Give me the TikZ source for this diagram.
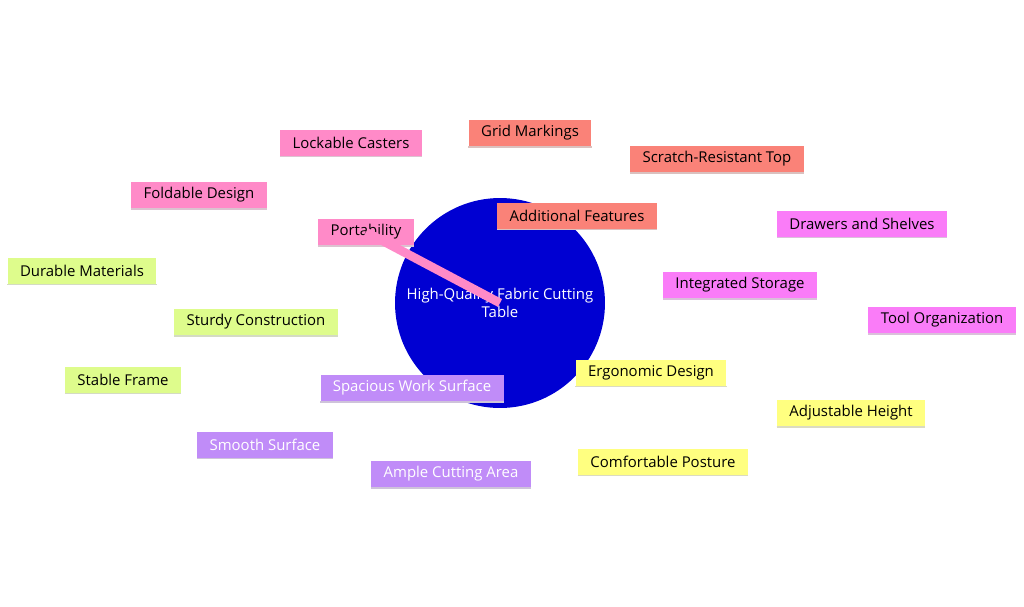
\documentclass[tikz,border=0pt]{standalone}
\usepackage{fontspec}
\setmainfont{Open Sans}
\definecolor{cpink}{HTML}{FF8AC8}
\definecolor{csalmon}{HTML}{FA8278}
\definecolor{cmag}{HTML}{FA7CF8}
\definecolor{cyel}{HTML}{FFFF80}
\definecolor{cpur}{HTML}{C08CF8}
\definecolor{cgreen}{HTML}{DEFC8C}
\definecolor{ccore}{HTML}{0000D2}
\tikzset{
  box/.style={fill=#1, inner xsep=7pt, minimum height=15pt, font=\fontsize{8.5}{10}\selectfont,
    append after command={(\tikzlastnode.south west) edge[draw=#1!60!black!35!white, line width=1pt]
    (\tikzlastnode.south east)}},
  link/.style={draw=#1, line width=5pt},
  sublink/.style={draw=#1, line width=3.5pt}
}
\begin{document}
\begin{tikzpicture}[x=0.02cm,y=-0.02cm]
\useasboundingbox (0,0) rectangle (1024,606);

% nodes
\node[circle, fill=ccore, minimum size=4.2cm, text=white, align=center,
  font=\fontsize{8.5}{10}\selectfont] (core) at (500,303) {High-Quality Fabric Cutting\\Table};

\node[box=cpink] (port) at (366,232) {Portability};
\node[box=cpink] (cast) at (351,143) {Lockable Casters};
\node[box=cpink] (fold) at (199,195) {Foldable Design};

\node[box=csalmon] (add) at (577,216) {Additional Features};
\node[box=csalmon] (grid) at (530,133) {Grid Markings};
\node[box=csalmon] (scr) at (717,159) {Scratch-Resistant Top};

\node[box=cmag] (stor) at (740,285) {Integrated Storage};
\node[box=cmag] (draw) at (862,224) {Drawers and Shelves};
\node[box=cmag] (tool) at (942,320) {Tool Organization};

\node[box=cyel] (ergo) at (651,373) {Ergonomic Design};
\node[box=cyel] (adj) at (851,413) {Adjustable Height};
\node[box=cyel] (comf) at (663,462) {Comfortable Posture};

\node[box=cpur, text=white] (work) at (412,388) {Spacious Work Surface};
\node[box=cpur, text=white] (smo) at (265,445) {Smooth Surface};
\node[box=cpur, text=white] (ample) at (451,474) {Ample Cutting Area};

\node[box=cgreen] (stur) at (256,322) {Sturdy Construction};
\node[box=cgreen] (dur) at (82,271) {Durable Materials};
\node[box=cgreen] (stab) at (123,380) {Stable Frame};

% connectors
\begin{scope}[on background layer/.style={}]
\end{scope}
\begin{pgfinterruptboundingbox}
\path[link=cpink] (core.center) -- (port.center);
\end{pgfinterruptboundingbox}
\end{tikzpicture}
\end{document}
